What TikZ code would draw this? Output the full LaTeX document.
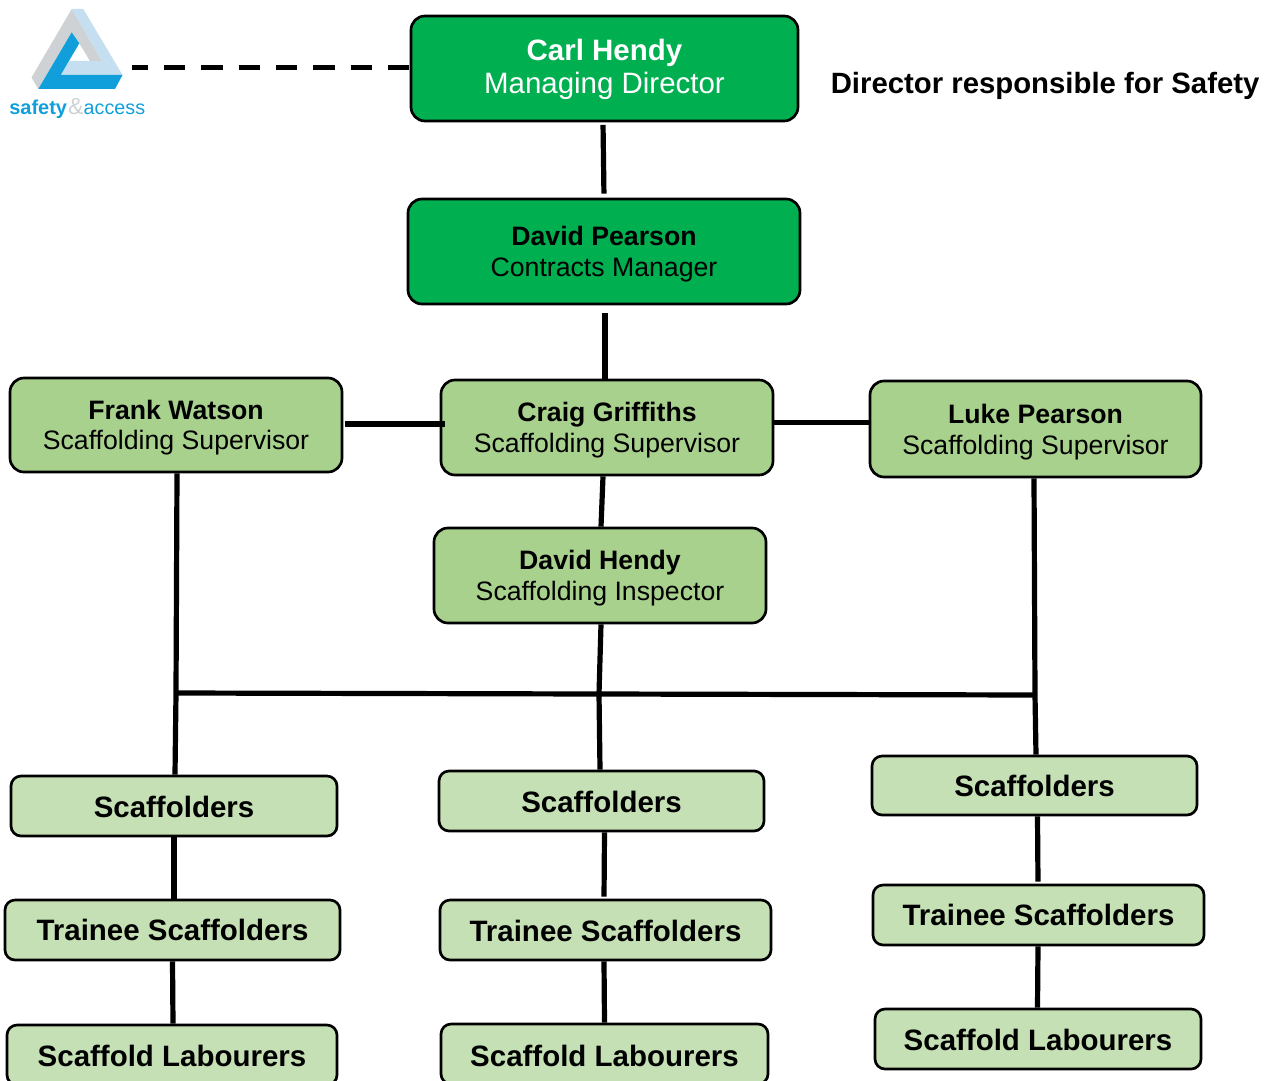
\documentclass[tikz,border=0pt]{standalone}
\usepackage{fontspec}
\setmainfont{Liberation Sans}
\definecolor{dgreen}{HTML}{00AF50}
\definecolor{lgreen}{HTML}{A9D18E}
\definecolor{pgreen}{HTML}{C5E0B4}
\definecolor{lbBlue}{HTML}{C5DFF1}
\definecolor{lgBlue}{HTML}{109FDB}
\definecolor{lgGray}{HTML}{CFD2D5}
\tikzset{
 orgbox/.style={draw=black,line width=2pt,rounded corners=14*0.75pt,align=center,inner sep=0pt,text=black},
 topbox/.style={orgbox,fill=dgreen},
 supbox/.style={orgbox,fill=lgreen,font=\fontsize{20pt}{23.2pt}\selectfont},
 grpbox/.style={orgbox,fill=pgreen,rounded corners=10*0.75pt,font=\fontsize{22.1pt}{24pt}\selectfont\bfseries},
 link/.style={line width=3.9pt,line cap=butt},
}
\newcommand{\boxat}[7]{\node[#2,minimum width=#5*0.75pt-#3*0.75pt,minimum height=#6*0.75pt-#4*0.75pt] (#1) at ({(#3+#5)/2},{(#4+#6)/2}) {#7};}
% pushes a box's text down by half of the given amount
\newcommand{\topgap}[1]{\rule{0pt}{\dimexpr0.73em+#1\relax}}
\begin{document}
\begin{tikzpicture}[x=0.75pt,y=-0.75pt]
\useasboundingbox (0,0) rectangle (1274,1081);
\clip (0,0) rectangle (1274,1081);
% logo
\fill[lbBlue] (71.7,9)--(83.3,9)--(122.5,75)--(60.7,75)--(69.3,61)--(101.7,61)--cycle;
\fill[lgGray] (71.7,9)--(31.5,77.5)--(38.3,89)--(71.7,32.3)--(79.3,43.3)--(90,61)--(101.7,61)--cycle;
\fill[lgBlue] (38.3,89)--(71.7,32.3)--(79.3,43.3)--(60.7,75)--(122.5,75)--(115,89)--cycle;
\node[inner sep=0pt,anchor=base west] (logotext) at (9,114) {\fontsize{15pt}{16pt}\selectfont\textcolor{lgBlue}{\textbf{safety}}\hspace{0.8pt}\textcolor{lgGray}{\fontsize{17.5pt}{16pt}\selectfont\&}\textcolor{lgBlue}{\fontsize{14.8pt}{16pt}\selectfont access}};
% boxes
\boxat{carl}{topbox,font=\fontsize{22.1pt}{24.6pt}\selectfont,text=white}{411}{16}{798}{121}{\topgap{1.5pt}\textbf{Carl Hendy}\\Managing Director}
\boxat{pearson}{topbox,font=\fontsize{20pt}{23.2pt}\selectfont}{408}{199}{800}{304}{\topgap{3.6pt}\textbf{David Pearson}\\Contracts Manager}
\boxat{frank}{supbox}{10}{378}{342}{472}{\topgap{3.8pt}\textbf{Frank Watson}\\Scaffolding Supervisor}
\boxat{craig}{supbox}{441}{380}{773}{475}{\topgap{3.6pt}\textbf{Craig Griffiths}\\Scaffolding Supervisor}
\boxat{luke}{supbox}{870}{381}{1201}{477}{\topgap{4.2pt}\textbf{Luke Pearson}\\Scaffolding Supervisor}
\boxat{hendy}{supbox}{434}{528}{766}{623}{\topgap{3.6pt}\textbf{David Hendy}\\Scaffolding Inspector}
\boxat{sa}{grpbox}{11}{776}{337}{836}{\topgap{1.5pt}Scaffolders}
\boxat{sb}{grpbox}{439}{771}{764}{831}{\topgap{1.5pt}Scaffolders}
\boxat{sc}{grpbox}{872}{756}{1197}{815}{Scaffolders}
\boxat{ta}{grpbox}{5}{900}{340}{960}{Trainee Scaffolders}
\boxat{tb}{grpbox}{440}{900}{771}{960}{\topgap{1.5pt}Trainee Scaffolders}
\boxat{tc}{grpbox}{873}{885}{1204}{945}{Trainee Scaffolders}
\boxat{la}{grpbox}{7}{1025}{337}{1085}{\topgap{1.5pt}Scaffold Labourers}
\boxat{lb}{grpbox}{441}{1024}{768}{1084}{\topgap{3pt}Scaffold Labourers}
\boxat{lc}{grpbox}{875}{1009}{1201}{1069}{\topgap{1.5pt}Scaffold Labourers}
\node[anchor=base west,inner sep=0pt,font=\fontsize{22pt}{25pt}\selectfont\bfseries] (dirlabel) at (830.5,93.5) {Director responsible for Safety};
% connectors
\coordinate (logoend) at (132,67.5);
\coordinate (busl) at (176,693);
\coordinate (busm) at (599,694);
\coordinate (busr) at (1035,695);
\coordinate (fcl) at (344.5,424);
\coordinate (fcr) at (444.5,424);
\draw[link,dash pattern=on 16.1pt off 11.9pt,dash phase=4pt] (logoend) -- (carl.west |- logoend);
\draw[link,shorten <=2.5*0.75pt,shorten >=4*0.75pt] ([xshift=-1.5*0.75pt]carl.south) -- (pearson.north);
\draw[link,shorten <=8*0.75pt] ([xshift=1*0.75pt]pearson.south) -- ([xshift=-2*0.75pt]craig.north);
\draw[link] (fcl) -- (fcr);
\draw[link] (craig.east |- 0,422.5) -- (luke.west |- 0,422.5);
\draw[link] ([xshift=-4*0.75pt]craig.south) -- ([xshift=1*0.75pt]hendy.north);
\draw[link] ([xshift=1*0.75pt]hendy.south) -- (busm) -- ([xshift=-1.5*0.75pt]sb.north);
\draw[link] ([xshift=1*0.75pt]frank.south) -- (busl) -- ([xshift=1*0.75pt]sa.north);
\draw[link] ([xshift=-1.5*0.75pt]luke.south) -- (busr) -- ([xshift=1.5*0.75pt]sc.north);
\draw[link] (busl) -- (busm) -- (busr);
\draw[link] (sa.south) -- ([xshift=1.5*0.75pt]ta.north);
\draw[link] (ta.south) -- ([xshift=1*0.75pt]la.north);
\draw[link,shorten >=2*0.75pt] ([xshift=3*0.75pt]sb.south) -- ([xshift=-1.5*0.75pt]tb.north);
\draw[link] ([xshift=-1.5*0.75pt]tb.south) -- (lb.north);
\draw[link,shorten >=2*0.75pt] ([xshift=3*0.75pt]sc.south) -- ([xshift=-0.5*0.75pt]tc.north);
\draw[link] ([xshift=-0.5*0.75pt]tc.south) -- ([xshift=-0.5*0.75pt]lc.north);
\end{tikzpicture}
\end{document}
